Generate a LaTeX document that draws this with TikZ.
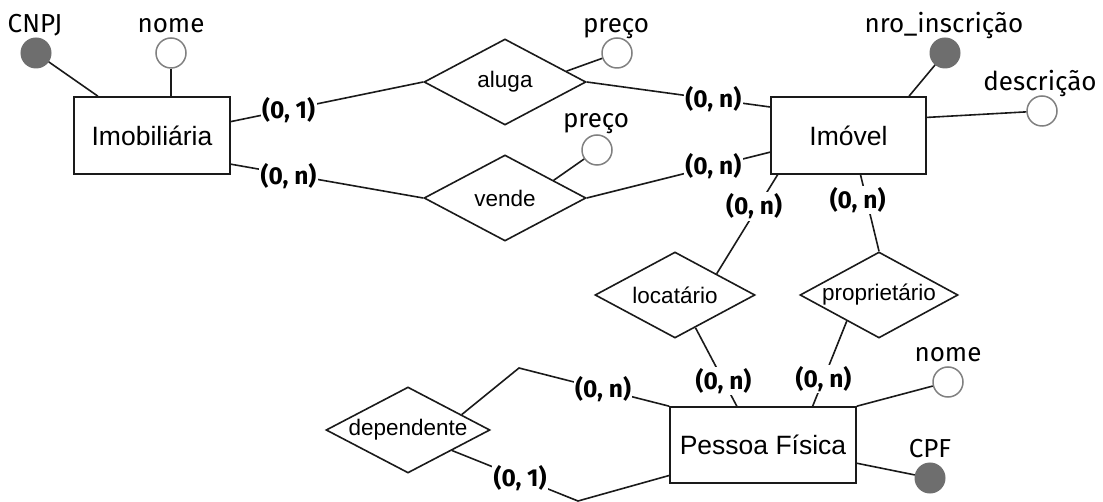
\documentclass[tikz,border=0pt]{standalone}
\usepackage{fontspec}
\setmainfont{Liberation Sans}
\newfontfamily\attrfont{Fira Sans}
\usetikzlibrary{shapes.geometric}
\definecolor{keygray}{HTML}{6E6E6E}
\definecolor{ringgray}{HTML}{808080}
\definecolor{linec}{HTML}{1A1A1A}
\begin{document}
\begin{tikzpicture}[x=1pt,y=-1pt,
  conn/.style={draw=linec, line width=1.6pt},
  entity/.style={draw=linec, line width=1.6pt, rectangle, fill=white, font=\fontsize{26.5}{30}\selectfont, inner sep=0pt},
  rel/.style={draw=linec, line width=1.6pt, diamond, minimum width=162pt, minimum height=86pt, inner sep=0pt},
  rellbl/.style={font=\fontsize{22.5}{26}\selectfont, inner sep=0pt},
  keyattr/.style={circle, fill=keygray, draw=keygray, line width=1pt, minimum size=30pt, inner sep=0pt},
  attr/.style={circle, fill=white, draw=ringgray, line width=1.5pt, minimum size=30pt, inner sep=0pt},
  attrlbl/.style={font=\attrfont\fontsize{26}{30}\selectfont, inner sep=0pt, anchor=base},
  card/.style={font=\attrfont\bfseries\fontsize{24.5}{28}\selectfont, fill=white, inner sep=1.5pt},
]
\useasboundingbox (0,0) rectangle (1103,502);

% entities
\node[entity, minimum width=156pt, minimum height=77pt] (imob) at (152,135.5) {Imobiliária};
\node[entity, minimum width=155pt, minimum height=77pt] (imov) at (848.5,135.5) {Imóvel};
\node[entity, minimum width=186pt, minimum height=76pt] (pes) at (763,445) {Pessoa Física};

% relationships
\node[rel, label={[rellbl]center:aluga}] (aluga) at (505,82) {};
\node[rel, label={[rellbl]center:vende}] (vende) at (505,198) {};
\node[rel, minimum width=160pt, label={[rellbl]center:locatário}] (loc) at (675,295) {};
\node[rel, minimum width=158pt, label={[rellbl]center:proprietário}] (prop) at (879,295) {};
\node[rel, minimum width=164pt, label={[rellbl]center:dependente}] (dep) at (408,430) {};

% attributes
\node[keyattr] (cnpj) at (36,53) {};
\node[attrlbl] (cnpjt) at (35,33) {CNPJ};
\node[attr] (nomei) at (171,53) {};
\node[attrlbl] (nomeit) at (171,33) {nome};
\node[attr] (preco1) at (617,53) {};
\node[attrlbl] (preco1t) at (616,33) {preço};
\node[attr] (preco2) at (597,150) {};
\node[attrlbl] (preco2t) at (596,128) {preço};
\node[keyattr] (nro) at (945,53) {};
\node[attrlbl] (nrot) at (944,33) {nro\_inscrição};
\node[attr] (desc) at (1042,111) {};
\node[attrlbl] (desct) at (1040,91) {descrição};
\node[attr] (nomep) at (948,382) {};
\node[attrlbl] (nomept) at (948,362) {nome};
\node[keyattr] (cpf) at (930,478) {};
\node[attrlbl] (cpft) at (930,457) {CPF};

% attribute links
\draw[conn] (cnpj) -- (imob.144);
\draw[conn] (nomei.south) -- (nomei.south |- imob.north);
\draw[conn] (aluga.10) -- (preco1);
\draw[conn] (vende.20) -- (preco2);
\draw[conn] (imov.33) -- (nro);
\draw[conn] (imov.13) -- (desc);
\draw[conn] (pes.north east) -- (nomep);
\draw[conn] (pes.-11) -- (cpf);

% relationship links
\draw[conn] (imob.10) -- node[card,pos=0.3]{(0, 1)} (aluga.west);
\draw[conn] (imob.-20) -- node[card,pos=0.3,yshift=-2pt]{(0, n)} (vende.west);
\draw[conn] (aluga.east) -- node[card,pos=0.69]{(0, n)} (imov.160);
\draw[conn] (vende.east) -- node[card,pos=0.69]{(0, n)} (imov.192);
\draw[conn] (imov.209) -- node[card,pos=0.32,xshift=-4pt]{(0, n)} (loc.27);
\draw[conn] (imov.-73) -- node[card,pos=0.33,xshift=-9pt]{(0, n)} (prop.north);
\draw[conn] (loc.-58) -- node[card,pos=0.68]{(0, n)} (pes.124);
\draw[conn] (prop.219) -- node[card,pos=0.68]{(0, n)} (pes.38);
\coordinate (bendA) at (519,368);
\coordinate (bendB) at (578,501);
\draw[conn] (dep.16) -- (bendA) -- node[card,pos=0.56]{(0, n)} (pes.north west);
\draw[conn] (dep.-25) -- node[card,pos=0.54]{(0, 1)} (bendB) -- (pes.198);
\end{tikzpicture}
\end{document}
